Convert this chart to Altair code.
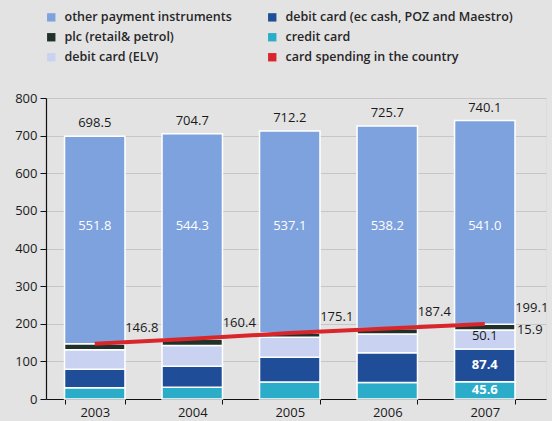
import altair as alt
import pandas as pd

# ---- data ----
years = ["2003", "2004", "2005", "2006", "2007"]
credit = [30.0, 31.0, 45.0, 44.0, 45.6]
debit_ec = [49.0, 56.0, 66.0, 79.0, 87.4]
debit_elv = [52.0, 55.0, 53.0, 50.0, 50.1]
plc = [15.8, 18.4, 11.1, 14.4, 15.9]
other = [551.8, 544.3, 537.1, 538.2, 541.0]
totals = [698.5, 704.7, 712.2, 725.7, 740.1]
card_spending = [146.8, 160.4, 175.1, 187.4, 199.1]
y_ticks = [0, 100, 200, 300, 400, 500, 600, 700, 800]

S_OTHER = "other payment instruments"
S_EC = "debit card (ec cash, POZ and Maestro)"
S_PLC = "plc (retail& petrol)"
S_CREDIT = "credit card"
S_ELV = "debit card (ELV)"
S_CARD = "card spending in the country"

# legend fills column by column
legend_order = [S_OTHER, S_PLC, S_ELV, S_EC, S_CREDIT, S_CARD]
legend_colors = ["#7ea2dd", "#1f3129", "#c9d3f1", "#1f4d98", "#2badc9", "#d8262a"]

stack_series = [(S_CREDIT, credit), (S_EC, debit_ec), (S_ELV, debit_elv), (S_PLC, plc), (S_OTHER, other)]

rows = []
for order, (name, vals) in enumerate(stack_series):
    for y, v in zip(years, vals):
        rows.append({"year": y, "series": name, "value": v, "ord": order})
df = pd.DataFrame(rows)

# segment midpoints (for the 2007 segment labels)
seg_rows = []
for i, y in enumerate(years):
    base = 0.0
    for name, vals in stack_series:
        v = vals[i]
        seg_rows.append({"year": y, "series": name, "value": v, "mid": base + v / 2})
        base += v
seg = pd.DataFrame(seg_rows)

df_tot = pd.DataFrame({"year": years, "total": totals, "other": other})
df_card = pd.DataFrame({"year": years, "card": card_spending})

OTHER_LABEL_AT = 460
FONT = "Open Sans"
TXT = "#1a1a1a"
FW = 500

x_axis = alt.Axis(title=None, labelAngle=0, tickBand="extent", domainColor="#111",
                  tickColor="#111", tickSize=5, labelFontSize=13, labelColor=TXT,
                  labelFontWeight=FW, labelPadding=2, grid=False, domainWidth=1.2)
y_axis = alt.Axis(title=None, values=y_ticks, tickSize=6, labelOverlap=False, labelFlush=False,
                  tickColor="#111", domainColor="#111", domainWidth=1.2,
                  gridColor="#c6c6c6", labelFontSize=13, labelColor=TXT,
                  labelFontWeight=FW, labelPadding=3)
x_scale = alt.Scale(paddingInner=0.38, paddingOuter=0.254, align=0.374)
y_scale = alt.Scale(domain=[0, 800])


def X():
    return alt.X("year:N", scale=x_scale, axis=x_axis)


def Y(field, **kw):
    return alt.Y(field, scale=y_scale, axis=y_axis, **kw)


bars = alt.Chart(df).mark_bar(stroke="white", strokeWidth=1.5).encode(
    x=X(),
    y=Y("value:Q", stack="zero"),
    color=alt.Color("series:N", scale=alt.Scale(domain=legend_order, range=legend_colors),
                    legend=alt.Legend(title=None, orient="none", legendX=-1, legendY=-87, columns=2,
                                      symbolType="square", symbolSize=70, symbolStrokeWidth=0,
                                      labelFontSize=12.5, labelColor="#262626", labelFontWeight=600,
                                      columnPadding=34, rowPadding=7, labelLimit=400,
                                      labelFont=FONT, labelOffset=7)),
    order=alt.Order("ord:Q"),
)

total_text = alt.Chart(df_tot).mark_text(dy=-13, fontSize=13, color=TXT, font=FONT, fontWeight=FW).encode(
    x=X(), y=Y("total:Q"), text=alt.Text("total:Q", format=".1f"))

other_text = alt.Chart(df_tot).mark_text(fontSize=13, color="white", font=FONT, fontWeight=FW).encode(
    x=X(), y=Y("y:Q"), text=alt.Text("other:Q", format=".1f")
).transform_calculate(y=str(OTHER_LABEL_AT))

line = alt.Chart(df_card).mark_line(color="#d8262a", strokeWidth=4).encode(
    x=X(), y=Y("card:Q"))

card_text = alt.Chart(df_card).mark_text(dx=47, dy=-16, fontSize=13, color=TXT, font=FONT, fontWeight=FW).encode(
    x=X(), y=Y("card:Q"), text=alt.Text("card:Q", format=".1f"))

last = seg[seg["year"] == "2007"]
inner = last[last["series"].isin([S_CREDIT, S_EC])]
inner_text = alt.Chart(inner).mark_text(fontSize=13, color="white", font=FONT, fontWeight="bold").encode(
    x=X(), y=Y("mid:Q"), text=alt.Text("value:Q", format=".1f"))
elv_text = alt.Chart(last[last["series"] == S_ELV]).mark_text(fontSize=13, color=TXT, font=FONT, fontWeight=FW, dy=-4).encode(
    x=X(), y=Y("mid:Q"), text=alt.Text("value:Q", format=".1f"))
plc_text = alt.Chart(last[last["series"] == S_PLC]).mark_text(fontSize=13, color=TXT, font=FONT, fontWeight=FW, dx=45, dy=3).encode(
    x=X(), y=Y("mid:Q"), text=alt.Text("value:Q", format=".1f"))

chart = alt.layer(bars, line, total_text, other_text, card_text, inner_text, elv_text, plc_text).properties(
    width=500, height=301,
    autosize=alt.AutoSizeParams(type="none"),
    padding={"left": 46, "top": 98, "right": 6, "bottom": 22},
    background="#e3e3e3",
).configure_view(stroke=None).configure(font=FONT)

chart.save("out.html", embed_options={"renderer": "svg", "actions": False})
